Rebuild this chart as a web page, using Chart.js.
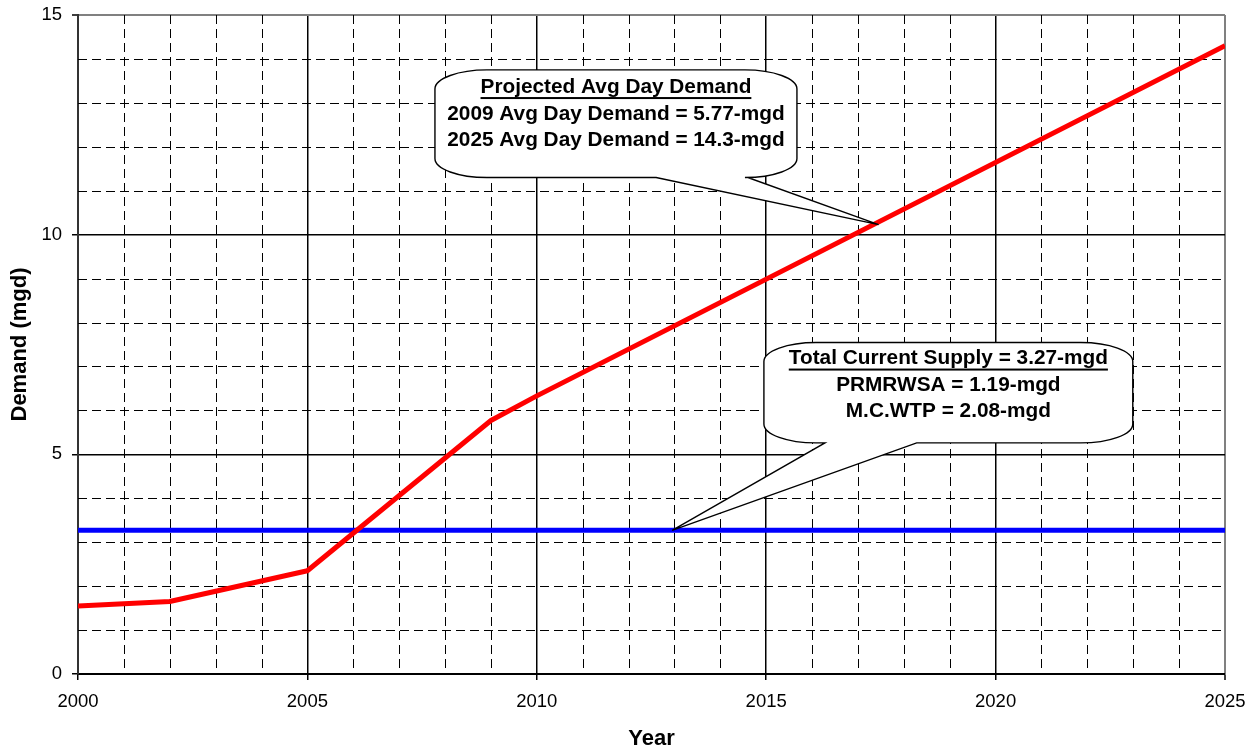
<!DOCTYPE html>
<html>
<head>
<meta charset="utf-8">
<script src="https://cdn.jsdelivr.net/npm/chart.js@4"></script>
<style>
  html, body { margin: 0; padding: 0; background: #fff; }
  canvas { display: block; }
</style>
</head>
<body>
<canvas id="c" width="1257" height="746"></canvas>
<script>
// Demand projection (million gallons per day)
const demandYears = [2000, 2002, 2005, 2009, 2010, 2025];
const demandValues = [1.55, 1.65, 2.35, 5.77, 6.33, 14.3];

// Current supply capacity
const supplyYears = [2000, 2025];
const supplyValues = [3.27, 3.27];

// Callout texts
const demandNote = ['Projected Avg Day Demand', '2009 Avg Day Demand = 5.77-mgd', '2025 Avg Day Demand = 14.3-mgd'];
const supplyNote = ['Total Current Supply = 3.27-mgd', 'PRMRWSA = 1.19-mgd', 'M.C.WTP = 2.08-mgd'];

const FONT = '"Liberation Sans", Arial, sans-serif';

const isMajor = v => Math.abs(v % 5) < 1e-9;
const edgeGray = '#808080';

// dashed minor grid lines at every whole unit that is not a multiple of five
const minorGrid = {
  id: 'minorGrid',
  beforeDatasetsDraw(chart) {
    const { ctx, chartArea: a, scales: { x, y } } = chart;
    ctx.save();
    ctx.strokeStyle = '#000';
    ctx.lineWidth = 1;
    ctx.setLineDash([9, 5]);
    for (let v = x.min; v <= x.max; v++) {
      if (isMajor(v)) continue;
      const px = Math.round(x.getPixelForValue(v)) + 0.5;
      ctx.beginPath(); ctx.moveTo(px, a.top); ctx.lineTo(px, a.bottom); ctx.stroke();
    }
    for (let v = y.min; v <= y.max; v++) {
      if (isMajor(v)) continue;
      const py = Math.round(y.getPixelForValue(v)) + 0.5;
      ctx.beginPath(); ctx.moveTo(a.left, py); ctx.lineTo(a.right, py); ctx.stroke();
    }
    ctx.restore();
  }
};

// speech-bubble callouts (wide elliptical corners) pointing at the lines
const callouts = {
  id: 'callouts',
  afterDatasetsDraw(chart, args, opts) {
    const { ctx, scales: { x, y } } = chart;
    for (const c of opts.items) {
      const L = x.getPixelForValue(c.box[0]), R = x.getPixelForValue(c.box[1]);
      const T = y.getPixelForValue(c.box[2]), B = y.getPixelForValue(c.box[3]);
      const b1 = x.getPixelForValue(c.base[0]), b2 = x.getPixelForValue(c.base[1]);
      const tx = x.getPixelForValue(c.tip[0]), ty = y.getPixelForValue(c.tip[1]);
      const rx = 52, ry = 19, k = 0.55;
      const mid = (L + R) / 2;

      ctx.save();
      ctx.beginPath();
      ctx.moveTo(L + rx, T);
      ctx.lineTo(R - rx, T);
      ctx.bezierCurveTo(R - rx + rx * k, T, R, T + ry - ry * k, R, T + ry);
      ctx.lineTo(R, B - ry);
      ctx.bezierCurveTo(R, B - ry + ry * k, R - rx + rx * k, B, R - rx, B);
      ctx.lineTo(b2, B);
      ctx.lineTo(tx, ty);
      ctx.lineTo(b1, B);
      ctx.lineTo(L + rx, B);
      ctx.bezierCurveTo(L + rx - rx * k, B, L, B - ry + ry * k, L, B - ry);
      ctx.lineTo(L, T + ry);
      ctx.bezierCurveTo(L, T + ry - ry * k, L + rx - rx * k, T, L + rx, T);
      ctx.closePath();
      ctx.fillStyle = '#fff';
      ctx.fill();
      ctx.strokeStyle = '#000';
      ctx.lineWidth = 1.4;
      ctx.lineJoin = 'miter';
      ctx.stroke();

      ctx.fillStyle = '#000';
      ctx.font = 'bold 20.8px ' + FONT;
      ctx.textAlign = 'center';
      ctx.textBaseline = 'middle';
      c.lines.forEach((t, i) => {
        const py = y.getPixelForValue(c.lineY[i]);
        ctx.fillText(t, mid, py);
        if (i === 0) {
          const w = ctx.measureText(t).width;
          ctx.fillRect(mid - w / 2, py + 10, w, 2);
        }
      });
      ctx.restore();
    }
  }
};

new Chart(document.getElementById('c'), {
  type: 'line',
  data: {
    datasets: [
      {
        label: 'Projected Demand',
        data: demandYears.map((yr, i) => ({ x: yr, y: demandValues[i] })),
        borderColor: '#ff0000',
        borderWidth: 5,
        pointRadius: 0,
        tension: 0,
        borderJoinStyle: 'round'
      },
      {
        label: 'Current Supply',
        data: supplyYears.map((yr, i) => ({ x: yr, y: supplyValues[i] })),
        borderColor: '#0000ff',
        borderWidth: 5,
        pointRadius: 0,
        tension: 0
      }
    ]
  },
  options: {
    responsive: false,
    animation: false,
    devicePixelRatio: 1,
    layout: { padding: { top: 0, right: 32, left: 4, bottom: 0 } },
    plugins: {
      legend: { display: false },
      tooltip: { enabled: false },
      callouts: {
        items: [
          {
            box: [2007.78, 2015.67, 13.75, 11.3],
            base: [2012.6, 2014.6],
            tip: [2017.45, 10.23],
            lines: demandNote,
            lineY: [13.36, 12.75, 12.14]
          },
          {
            box: [2014.95, 2022.99, 7.545, 5.26],
            base: [2016.28, 2018.28],
            tip: [2012.95, 3.27],
            lines: supplyNote,
            lineY: [7.18, 6.57, 5.98]
          }
        ]
      }
    },
    scales: {
      x: {
        type: 'linear',
        min: 2000,
        max: 2025,
        afterFit(scale) { scale.height = 72; },
        ticks: {
          stepSize: 1,
          autoSkip: false,
          maxRotation: 0,
          padding: 11,
          color: '#000',
          font: { family: FONT, size: 18.5 },
          callback: v => (isMajor(v) ? String(v) : '')
        },
        grid: {
          color: c => (c.tick && isMajor(c.tick.value) ? (c.tick.value === 2025 ? edgeGray : '#000') : 'rgba(0,0,0,0)'),
          lineWidth: c => (c.tick && c.tick.value === 2025 ? 2 : 1.5),
          tickLength: 6,
          tickColor: c => (c.tick && isMajor(c.tick.value) ? '#000' : 'rgba(0,0,0,0)'),
          tickWidth: 1.5
        },
        border: { color: '#000', width: 2 },
        title: {
          display: true,
          text: 'Year',
          color: '#000',
          font: { family: FONT, size: 22, weight: 'bold' },
          padding: { top: 0, bottom: -6 }
        }
      },
      y: {
        min: 0,
        max: 15,
        afterFit(scale) { scale.width = 74; scale.paddingTop = 15; },
        ticks: {
          stepSize: 1,
          autoSkip: false,
          padding: 10,
          color: '#000',
          font: { family: FONT, size: 18.5 },
          callback: v => (isMajor(v) ? String(v) : '')
        },
        grid: {
          color: c => (c.tick && isMajor(c.tick.value) ? (c.tick.value === 15 ? edgeGray : '#000') : 'rgba(0,0,0,0)'),
          lineWidth: c => (c.tick && c.tick.value === 15 ? 2 : 1.5),
          tickLength: 6,
          tickColor: c => (c.tick && isMajor(c.tick.value) ? '#000' : 'rgba(0,0,0,0)'),
          tickWidth: 1.5
        },
        border: { color: '#333', width: 2 },
        title: {
          display: true,
          text: 'Demand (mgd)',
          color: '#000',
          font: { family: FONT, size: 22, weight: 'bold' },
          padding: { top: 3, bottom: 0 }
        }
      }
    }
  },
  plugins: [minorGrid, callouts]
});
</script>
</body>
</html>
